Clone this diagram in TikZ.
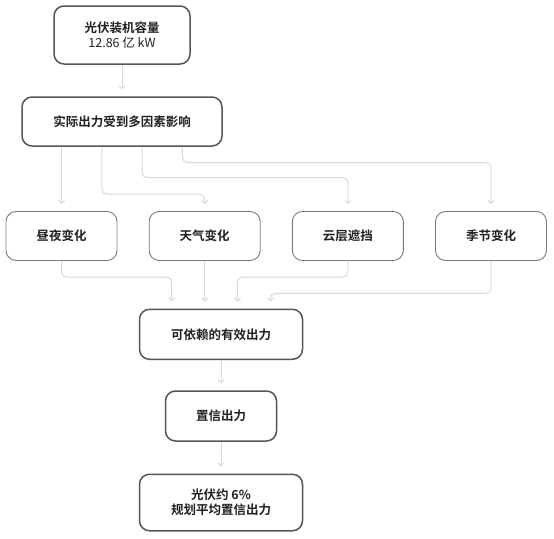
\documentclass[tikz,border=0pt]{standalone}
\usepackage{fontspec}
\setmainfont{Noto Sans CJK SC}[BoldFont={Noto Sans CJK SC Bold}]
\usetikzlibrary{arrows.meta,calc}
\definecolor{conncol}{HTML}{D0DCE6}
\definecolor{boxdark}{HTML}{555555}
\definecolor{boxlight}{HTML}{7A7A7A}
\definecolor{txt}{HTML}{222222}
\begin{document}
\begin{tikzpicture}[x=1pt,y=-1pt,
  basebox/.style={rounded corners=10pt, fill=white, align=center, text=txt,
    font=\fontsize{12.5}{15}\selectfont\bfseries, inner sep=0pt},
  mainbox/.style={basebox, draw=boxdark, line width=1.5pt},
  catbox/.style={basebox, draw=boxlight, line width=0.9pt,
    minimum width=111pt, minimum height=49pt},
  conn/.style={draw=conncol, line width=1pt, rounded corners=5pt,
    -{Straight Barb[length=3pt,width=6pt]}, shorten >=7pt}]
\fill[white] (0,0) rectangle (554,538);
\useasboundingbox (0,0) rectangle (554,538);

\node[mainbox, minimum width=136pt, minimum height=58pt] (b1) at (122,35)
  {光伏装机容量\\{\mdseries 12.86 亿 kW}};
\node[mainbox, minimum width=200pt, minimum height=49pt] (b2) at (122,121.5)
  {实际出力受到多因素影响};

\node[catbox] (c1) at (61.5,236) {昼夜变化};
\node[catbox] (c2) at (204.7,236) {天气变化};
\node[catbox] (c3) at (347.8,236) {云层遮挡};
\node[catbox] (c4) at (491,236) {季节变化};

\node[mainbox, minimum width=163pt, minimum height=50pt] (d) at (221,334.3)
  {可依赖的有效出力};
\node[mainbox, minimum width=111pt, minimum height=50pt] (z) at (221,416)
  {置信出力};
\node[mainbox, minimum width=163pt, minimum height=56.5pt] (f) at (221,502.5)
  {光伏约 6\%\\规划平均置信出力};

% top
\draw[conn] (b1.south) -- (b2.north);

% b2 -> categories
\coordinate (o1) at ($(b2.south west)!0.2!(b2.south east)$);
\coordinate (o2) at ($(b2.south west)!0.4!(b2.south east)$);
\coordinate (o3) at ($(b2.south west)!0.6!(b2.south east)$);
\coordinate (o4) at ($(b2.south west)!0.8!(b2.south east)$);
\draw[conn] (o1) -- (o1 |- c1.north);
\draw[conn] (o2) -- (o2 |- 0,194) -| (c2.north);
\draw[conn] (o3) -- (o3 |- 0,177.7) -| (c3.north);
\draw[conn] (o4) -- (o4 |- 0,162.7) -| (c4.north);

% categories -> d
\coordinate (i1) at ($(d.north west)!0.2!(d.north east)$);
\coordinate (i2) at ($(d.north west)!0.4!(d.north east)$);
\coordinate (i3) at ($(d.north west)!0.6!(d.north east)$);
\coordinate (i4) at ($(d.north west)!0.8!(d.north east)$);
\draw[conn] (c1.south) -- (c1.south |- 0,277) -| (i1);
\draw[conn] (c2.south) -- (c2.south |- i2);
\draw[conn] (c3.south) -- (c3.south |- 0,277) -| (i3);
\draw[conn] (c4.south) -- (c4.south |- 0,293.3) -| (i4);

% bottom chain
\draw[conn] (d.south) -- (z.north);
\draw[conn] (z.south) -- (f.north);
\end{tikzpicture}
\end{document}
